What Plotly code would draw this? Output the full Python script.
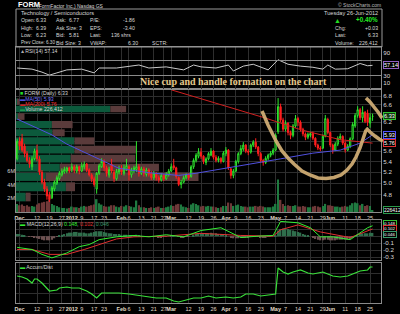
import math
import plotly.graph_objects as go

W, H = 400, 314

# ---------------- data ----------------
# trading-day index: -1 = 30 Nov 2011, 0 = 1 Dec 2011 ... 142 = 26 Jun 2012
day = list(range(-1, 143))

tick_day = [0, 7, 12, 17, 21, 25, 30, 34, 41, 44, 49, 54, 58, 61, 68, 73, 78, 83, 87, 92,
            97, 103, 107, 112, 117, 122, 125, 131, 136, 141]
tick_lbl = ["<b>Dec</b>", "12", "19", "27", "<b>2012</b>", "9", "17", "23", "<b>Feb</b>", "6",
            "13", "21", "27", "<b>Mar</b>", "12", "19", "26", "<b>Apr</b>", "9", "16",
            "23", "<b>May</b>", "7", "14", "21", "29", "<b>Jun</b>", "11", "18", "25"]

opens = [5.45, 5.80, 5.85, 5.70, 5.55, 5.42, 5.30, 5.45, 5.62, 5.45,
         5.20, 5.02, 4.90, 4.80, 4.75, 4.90, 5.00, 5.08, 5.15, 5.20,
         5.22, 5.28, 5.25, 5.30, 5.22, 5.30, 5.22, 5.30, 5.35, 5.24,
         5.15, 5.08, 4.90, 5.18, 5.30, 5.40, 5.28, 5.15, 5.35, 5.20,
         5.08, 5.20, 5.28, 5.18, 5.26, 5.30, 5.15, 5.22, 5.25, 5.30,
         5.18, 5.26, 5.16, 5.24, 5.18, 5.10, 5.18, 5.10, 5.06, 5.14,
         5.08, 5.15, 5.22, 5.32, 5.28, 5.10, 4.98, 5.02, 5.10, 5.15,
         5.12, 5.30, 5.42, 5.50, 5.58, 5.50, 5.38, 5.45, 5.52, 5.60,
         5.48, 5.42, 5.46, 5.40, 5.55, 5.62, 5.26, 5.14, 5.22, 5.40,
         5.55, 5.64, 5.72, 5.60, 5.58, 5.72, 5.78, 5.68, 5.55, 5.42,
         5.38, 5.46, 5.52, 5.56, 5.62, 6.00, 6.55, 6.25, 6.05, 6.18,
         5.98, 5.92, 6.12, 6.28, 6.20, 6.05, 5.95, 5.88, 5.92, 5.96,
         5.86, 5.72, 5.66, 5.66, 5.90, 6.26, 5.98, 5.72, 5.62, 5.74,
         5.86, 5.90, 5.76, 5.62, 5.70, 5.85, 6.12, 6.35, 6.48, 6.30,
         6.42, 6.40, 6.18, 6.33]
highs = [5.85, 5.88, 5.95, 5.75, 5.60, 5.48, 5.50, 5.65, 5.73, 5.50,
         5.24, 5.08, 4.95, 4.85, 4.95, 5.05, 5.14, 5.22, 5.27, 5.30,
         5.30, 5.30, 5.36, 5.33, 5.34, 5.32, 5.38, 5.40, 5.37, 5.27,
         5.18, 5.12, 5.20, 5.36, 5.46, 5.44, 5.32, 5.30, 5.45, 5.24,
         5.26, 5.32, 5.33, 5.34, 5.45, 5.33, 5.28, 5.32, 5.80, 5.35,
         5.30, 5.30, 5.28, 5.27, 5.22, 5.22, 5.20, 5.14, 5.18, 5.17,
         5.20, 5.26, 5.36, 5.45, 5.30, 5.12, 5.06, 5.14, 5.18, 5.18,
         5.33, 5.46, 5.56, 5.66, 5.66, 5.52, 5.48, 5.58, 5.66, 5.62,
         5.52, 5.50, 5.48, 5.60, 5.68, 5.64, 5.28, 5.26, 5.43, 5.58,
         5.72, 5.78, 5.74, 5.64, 5.75, 5.82, 5.86, 5.70, 5.58, 5.45,
         5.50, 5.55, 5.60, 5.66, 5.96, 6.75, 6.62, 6.30, 6.24, 6.20,
         6.02, 6.16, 6.36, 6.32, 6.24, 6.08, 5.98, 5.98, 6.00, 6.00,
         5.88, 5.75, 5.70, 5.94, 6.36, 6.30, 6.00, 5.75, 5.78, 5.90,
         5.96, 5.92, 5.80, 5.74, 5.88, 6.20, 6.40, 6.56, 6.52, 6.56,
         6.45, 6.48, 6.40, 6.39]
lows = [5.42, 5.62, 5.58, 5.48, 5.38, 5.28, 5.24, 5.42, 5.40, 5.15,
        4.98, 4.85, 4.72, 4.68, 4.73, 4.86, 4.97, 5.05, 5.12, 5.17,
        5.18, 5.18, 5.20, 5.18, 5.18, 5.16, 5.20, 5.25, 5.20, 5.12,
        5.02, 4.94, 4.82, 5.15, 5.28, 5.22, 5.12, 5.10, 5.18, 5.02,
        5.05, 5.16, 5.15, 5.14, 5.22, 5.05, 5.10, 5.18, 5.20, 5.12,
        5.15, 5.12, 5.12, 5.12, 5.06, 5.06, 5.05, 5.01, 5.03, 5.04,
        5.06, 5.12, 5.20, 5.24, 5.08, 4.95, 4.91, 5.00, 5.07, 5.06,
        5.10, 5.26, 5.38, 5.46, 5.45, 5.35, 5.33, 5.42, 5.50, 5.44,
        5.38, 5.38, 5.36, 5.38, 5.50, 5.24, 5.08, 5.09, 5.20, 5.36,
        5.52, 5.60, 5.56, 5.52, 5.55, 5.68, 5.64, 5.50, 5.38, 5.32,
        5.35, 5.42, 5.48, 5.52, 5.60, 5.95, 6.20, 6.00, 6.00, 5.92,
        5.84, 5.88, 6.08, 6.12, 6.00, 5.90, 5.82, 5.84, 5.88, 5.82,
        5.68, 5.62, 5.60, 5.64, 5.88, 5.94, 5.68, 5.55, 5.60, 5.70,
        5.82, 5.72, 5.57, 5.60, 5.66, 5.82, 6.08, 6.30, 6.25, 6.20,
        6.18, 6.12, 6.08, 6.23]
closes = [5.80, 5.70, 5.62, 5.55, 5.42, 5.35, 5.45, 5.60, 5.45, 5.20,
          5.02, 4.90, 4.78, 4.72, 4.92, 5.02, 5.10, 5.18, 5.22, 5.25,
          5.28, 5.22, 5.30, 5.24, 5.30, 5.22, 5.32, 5.35, 5.24, 5.15,
          5.08, 4.98, 5.18, 5.32, 5.40, 5.28, 5.18, 5.25, 5.22, 5.08,
          5.22, 5.26, 5.20, 5.28, 5.32, 5.15, 5.24, 5.28, 5.30, 5.18,
          5.26, 5.18, 5.24, 5.16, 5.10, 5.18, 5.10, 5.06, 5.14, 5.08,
          5.16, 5.22, 5.30, 5.28, 5.12, 4.98, 5.02, 5.10, 5.15, 5.10,
          5.30, 5.42, 5.52, 5.58, 5.50, 5.40, 5.45, 5.55, 5.60, 5.48,
          5.42, 5.46, 5.40, 5.56, 5.62, 5.28, 5.14, 5.22, 5.40, 5.55,
          5.65, 5.72, 5.60, 5.58, 5.72, 5.78, 5.68, 5.55, 5.42, 5.38,
          5.46, 5.52, 5.56, 5.62, 5.92, 6.55, 6.25, 6.05, 6.18, 5.98,
          5.92, 6.12, 6.28, 6.20, 6.05, 5.95, 5.88, 5.94, 5.96, 5.86,
          5.72, 5.66, 5.64, 5.90, 6.28, 5.98, 5.72, 5.62, 5.74, 5.86,
          5.90, 5.76, 5.62, 5.70, 5.85, 6.15, 6.35, 6.48, 6.30, 6.42,
          6.22, 6.20, 6.30, 6.33]
volume_m = [1.2, 1.0, 1.1, 0.9, 1.0, 0.8, 0.9, 0.8, 1.1, 1.3, 1.4,
            1.5, 1.6, 1.8, 1.2, 1.0, 0.9, 0.7, 0.6, 0.6, 0.5, 0.6,
            0.8, 0.7, 0.7, 0.6, 0.8, 0.9, 0.8, 0.9, 1.0, 1.1, 1.9,
            1.3, 1.1, 0.9, 0.8, 0.8, 1.0, 1.0, 0.8, 0.7, 0.9, 0.8,
            1.0, 0.9, 0.8, 0.7, 1.7, 1.0, 0.7, 0.7, 0.6, 0.6, 0.7,
            0.6, 0.7, 0.8, 0.6, 0.6, 0.7, 0.8, 1.0, 0.9, 1.1, 1.2,
            1.1, 0.8, 0.7, 0.6, 1.1, 1.3, 1.2, 1.0, 0.8, 0.9, 0.8,
            0.9, 0.8, 0.8, 0.7, 0.6, 0.7, 0.9, 0.9, 1.4, 1.3, 0.9,
            1.0, 1.1, 0.9, 0.8, 0.8, 0.7, 0.8, 0.8, 0.9, 0.8, 0.9,
            0.8, 0.7, 0.7, 0.7, 0.8, 1.2, 4.8, 1.8, 1.2, 0.9, 1.0,
            0.9, 0.9, 1.0, 0.8, 0.8, 0.9, 0.8, 0.7, 0.7, 0.8, 0.9,
            0.8, 0.7, 0.9, 1.2, 1.0, 1.0, 0.9, 0.8, 0.8, 0.7, 0.8,
            0.9, 0.8, 1.0, 1.3, 1.4, 1.3, 1.0, 1.2, 0.9, 1.0, 0.9,
            0.226]

ma50_day = [-1, 13, 19, 32, 40, 52, 64, 71, 79, 89, 105, 118, 129, 137, 142]
ma50 = [6.27, 5.93, 5.74, 5.45, 5.27, 5.19, 5.14, 5.18, 5.24, 5.33, 5.45, 5.56, 5.62, 5.76, 5.93]
ma200_day = [61, 73, 85, 99, 113, 129, 142]
ma200 = [6.95, 6.73, 6.52, 6.29, 6.04, 5.83, 5.76]

# volume-by-price bins (millions of shares)
vbp_lo = [4.68, 4.85, 5.03, 5.20, 5.37, 5.54, 5.72, 5.89, 6.06, 6.24, 6.41, 6.58]
vbp_hi = [4.85, 5.03, 5.20, 5.37, 5.54, 5.72, 5.89, 6.06, 6.24, 6.41, 6.58, 6.75]
vbp_up = [1.6, 8.2, 4.9, 7.2, 9.0, 9.6, 9.6, 6.0, 5.9, 0.3, 15.5, 0.3]
vbp_down = [0.8, 1.5, 25.1, 16.3, 10.6, 10.1, 3.3, 2.0, 3.4, 1.1, 2.6, 0.3]

rsi_day = [-1, 5, 9, 12, 15, 19, 25, 30, 32, 39, 48, 52, 59, 66, 70, 73, 79, 84, 86, 90,
           94, 100, 104, 108, 113, 118, 122, 124, 127, 132, 137, 140, 142]
rsi = [50, 47, 39, 31, 37, 45, 47, 37, 50, 50, 58, 50, 53, 45, 58, 53, 50, 58, 42, 55,
       60, 45, 72, 60, 55, 52, 47, 58, 47, 48, 62, 56, 57.14]

macd_day = [-1, 5, 9, 13, 19, 24, 28, 32, 39, 46, 52, 59, 66, 73, 81, 89, 96, 102, 105, 112,
            117, 121, 126, 133, 140, 142]
macd = [-0.16, -0.19, -0.26, -0.31, -0.24, -0.15, -0.12, -0.05, -0.01, 0.01,
        -0.01, 0.02, -0.01, 0.08, 0.12, -0.02, 0.0, 0.01, 0.21, 0.19,
        0.12, -0.01, -0.01, -0.05, 0.12, 0.148]
signal_day = [-1, 5, 12, 19, 26, 32, 39, 46, 59, 73, 89, 102, 105, 112, 121, 133, 142]
signal = [-0.19, -0.19, -0.26, -0.26, -0.19, -0.12, -0.04, -0.01, 0.0, 0.04, 0.01, 0.0,
          0.09, 0.16, 0.06, -0.02, 0.102]
macd_hist = [0.03, 0.03, 0.02, 0.01, 0.0, -0.01, -0.01,
             -0.02, -0.03, -0.04, -0.05, -0.06, -0.06, -0.06,
             -0.05, -0.03, -0.01, 0.01, 0.02, 0.03,
             0.04, 0.05, 0.05, 0.06, 0.06, 0.05, 0.05,
             0.05, 0.04, 0.04, 0.05, 0.06, 0.07, 0.07,
             0.07, 0.06, 0.05, 0.04, 0.04, 0.03, 0.03, 0.03,
             0.02, 0.02, 0.02, 0.01, 0.01, 0.01, 0.02, 0.01, 0.0, 0.0,
             0.0, -0.01, -0.01, -0.01, -0.01, -0.02, -0.02, -0.01, -0.01, 0.0,
             0.01, 0.01, 0.0, -0.01, -0.02, -0.02, -0.01, -0.01, 0.0, 0.02,
             0.03, 0.04, 0.04, 0.04, 0.04, 0.04, 0.05, 0.04, 0.04, 0.03,
             0.03, 0.03, 0.02, 0.0, -0.02, -0.03, -0.03, -0.03, -0.02, -0.02,
             -0.02, -0.02, -0.01, -0.01, -0.01, -0.01, -0.02, -0.02, -0.02, -0.01,
             -0.01, 0.0, 0.02, 0.08, 0.10, 0.11, 0.11, 0.10, 0.09, 0.08,
             0.07, 0.06, 0.05, 0.03, 0.02, 0.01, 0.0, -0.02, -0.04, -0.05,
             -0.06, -0.06, -0.05, -0.05, -0.06, -0.06, -0.06, -0.05, -0.05, -0.05,
             -0.05, -0.05, -0.04, -0.02, 0.0, 0.02, 0.03, 0.04, 0.04, 0.04, 0.05, 0.046]

ad_day = [-1, 1, 3, 5, 6, 7, 9, 12, 15, 16, 19, 21, 24, 27, 29, 31, 33, 36, 40, 44,
          47, 51, 55, 59, 62, 64, 67, 70, 73, 76, 79, 83, 86, 89, 91, 94, 97, 100, 103, 104,
          106, 108, 110, 113, 116, 118, 122, 126, 129, 132, 134, 137, 140, 141, 142]
ad = [13.5, 13, 12, 10, 12, 12, 10, 6, 6.5, 7.5, 8, 7.5, 7.5, 6, 4.5, 2.5, 5, 5, 5, 4.5,
      4, 3, 2.5, 2.5, 1, 0.5, 1.5, 2.5, 2.5, 3.5, 2.5, 3, 2.5, 3, 4.5, 4.5, 3.5, 4, 4.5, 17.5,
      15.5, 14.5, 15.5, 16.5, 15, 14.5, 15.5, 13.5, 13, 13.5, 14.5, 16, 16.5, 18, 18]

price_ticks = [4.8, 5.0, 5.2, 5.4, 5.6, 5.8, 6.0, 6.2, 6.4, 6.6, 6.8]
price_tick_txt = ['4.8', '5.0', '5.2', '5.4', '5.6', '', '', '6.2', '', '6.6', '6.8']

# ---------------- layout helpers ----------------
def fx(px):
    return px / W


def fy(py):
    return 1 - py / H


XD = [fx(16), fx(381)]
XR = [-1.45, 145.4]
PRICE_DOM = [fy(212), fy(89)]
RSI_DOM = [fy(89), fy(47)]
MACD_DOM = [fy(260), fy(220)]
AD_DOM = [fy(303), fy(263)]
PLOG = [math.log10(4.519), math.log10(6.97)]

GRID = '#2e2e2e'
FRAME = '#8a8a8a'
TXT = '#d8d8d8'
FONT = 'Liberation Sans'
tfont = dict(family=FONT, size=6.2, color=TXT)
dfont = dict(family=FONT, size=5.5, color='#e0dcc8')

fig = go.Figure()

# volume by price (base layer)
lo_l = [math.log10(v) for v in vbp_lo]
hi_l = [math.log10(v) for v in vbp_hi]
mid = [(a + b) / 2 for a, b in zip(lo_l, hi_l)]
wid = [(b - a) * 0.86 for a, b in zip(lo_l, hi_l)]
fig.add_trace(go.Bar(x=vbp_up, y=mid, width=wid, orientation='h',
                     marker=dict(color='#0c5a3c', line_width=0), xaxis='x', yaxis='y'))
fig.add_trace(go.Bar(x=vbp_down, y=mid, base=vbp_up, width=wid, orientation='h',
                     marker=dict(color='#5a3b3b', line_width=0), xaxis='x', yaxis='y'))

# volume
vol_col = ['#1f7a40' if (i == 0 or closes[i] >= closes[i - 1]) else '#6e3838'
           for i in range(len(closes))]
fig.add_trace(go.Bar(x=day, y=volume_m, marker=dict(color=vol_col, line_width=0),
                     xaxis='x2', yaxis='y2'))

# moving averages + candles
fig.add_trace(go.Scatter(x=ma50_day, y=ma50, mode='lines', line=dict(color='#5050e0', width=1),
                         xaxis='x2', yaxis='y3'))
fig.add_trace(go.Scatter(x=ma200_day, y=ma200, mode='lines', line=dict(color='#d02020', width=1),
                         xaxis='x2', yaxis='y3'))
fig.add_trace(go.Candlestick(x=day, open=opens, high=highs, low=lows, close=closes,
                             xaxis='x2', yaxis='y3', whiskerwidth=0,
                             increasing=dict(line=dict(color='#2ee62e', width=1), fillcolor='#000000'),
                             decreasing=dict(line=dict(color='#ff1e1e', width=1), fillcolor='#ff1e1e')))

# RSI
fig.add_trace(go.Scatter(x=rsi_day, y=rsi, mode='lines', line=dict(color='#c8c8c8', width=1),
                         xaxis='x3', yaxis='y4'))

# MACD
hist_col = ['#2f6e4c' if v >= 0 else '#6e5252' for v in macd_hist]
fig.add_trace(go.Bar(x=day, y=macd_hist, marker=dict(color=hist_col, line_width=0),
                     xaxis='x4', yaxis='y5'))
fig.add_trace(go.Scatter(x=signal_day, y=signal, mode='lines', line=dict(color='#e03030', width=1),
                         xaxis='x4', yaxis='y5'))
fig.add_trace(go.Scatter(x=macd_day, y=macd, mode='lines', line=dict(color='#33ee33', width=1),
                         xaxis='x4', yaxis='y5'))

# Accum/Dist
fig.add_trace(go.Scatter(x=ad_day, y=ad, mode='lines', line=dict(color='#3ae03a', width=1.2),
                         xaxis='x5', yaxis='y6'))

xgrid = dict(range=XR, tickmode='array', tickvals=tick_day, showgrid=True, gridcolor=GRID,
             gridwidth=1, showline=True, linecolor=FRAME, linewidth=1, mirror=True, ticks='',
             zeroline=False, fixedrange=True, tickfont=dfont, tickangle=0)

fig.update_layout(
    width=W, height=H, margin=dict(l=0, r=0, t=0, b=0),
    paper_bgcolor='#000000', plot_bgcolor='#000000',
    showlegend=False, barmode='overlay', bargap=0.35,
    xaxis=dict(domain=XD, range=[0, 60], visible=False, anchor='y', fixedrange=True),
    yaxis=dict(domain=PRICE_DOM, range=PLOG, visible=False, anchor='x', fixedrange=True),
    xaxis2=dict(overlaying='x', anchor='y3', ticktext=tick_lbl, rangeslider=dict(visible=False),
                **xgrid),
    yaxis2=dict(overlaying='y', anchor='x2', side='left', range=[0, 18.2], tickmode='array',
                tickvals=[2, 4, 6], ticktext=['2M', '4M', '6M'], showgrid=False, zeroline=False,
                showline=False, ticks='', tickfont=dict(family=FONT, size=5.5, color=TXT)),
    yaxis3=dict(overlaying='y', anchor='x2', side='right', type='log', range=PLOG,
                tickmode='array', tickvals=price_ticks, ticktext=price_tick_txt,
                showgrid=True, gridcolor=GRID, showline=True, linecolor=FRAME, mirror=True,
                ticks='', zeroline=False, tickfont=tfont),
    xaxis3=dict(domain=XD, anchor='y4', showticklabels=False, **xgrid),
    yaxis4=dict(domain=RSI_DOM, anchor='x3', side='right', range=[-6, 106], tickmode='array',
                tickvals=[10, 30, 50, 70, 90], ticktext=['10', '30', '', '', '90'],
                showgrid=False, showline=True, linecolor=FRAME,
                mirror=True, ticks='', zeroline=False, tickfont=tfont),
    xaxis4=dict(domain=XD, anchor='y5', showticklabels=False, **xgrid),
    yaxis5=dict(domain=MACD_DOM, anchor='x4', side='right', range=[-0.34, 0.23], tickmode='array',
                tickvals=[-0.3, -0.2, -0.1, 0.0, 0.1, 0.2],
                ticktext=['-0.3', '-0.2', '-0.1', '', '', ''],
                showgrid=True, gridcolor=GRID, showline=True, linecolor=FRAME, mirror=True,
                ticks='', zeroline=False, tickfont=tfont),
    xaxis5=dict(domain=XD, anchor='y6', ticktext=tick_lbl, **xgrid),
    yaxis6=dict(domain=AD_DOM, anchor='x5', side='right', range=[0, 20], showticklabels=False,
                showgrid=True, gridcolor=GRID, dtick=5, showline=True, linecolor=FRAME,
                mirror=True, ticks='', zeroline=False),
)

# ---------------- texts ----------------
ann = []


def txt(x, y, s, size=5.2, color=TXT, anchor='left', family=FONT):
    ann.append(dict(x=fx(x), y=fy(y), xref='paper', yref='paper', text=s, showarrow=False,
                    xanchor=anchor, yanchor='middle', font=dict(size=size, color=color, family=family)))


txt(16, 5, '<b>FORM</b>', size=7.5, color='#ffffff')
txt(35, 5.5, '(FormFactor Inc.) Nasdaq GS', size=5)
txt(383, 5, '© StockCharts.com', size=5, color='#bbbbbb', anchor='right')

txt(19, 13, 'Technology / Semiconductors', size=5.6)
txt(380, 13, 'Tuesday 26-Jun-2012', size=5.6, anchor='right')
rows = [(20, ['Open:', '6.33', 'Ask:', '6.77', 'P/E:']),
        (27.5, ['High:', '6.39', 'Ask Size: 3', '', 'EPS:']),
        (35, ['Low:', '6.23', 'Bid:', '5.81', 'Last:'])]
cols = [19, 34, 54, 67, 88]
for y, items in rows:
    for cx, s in zip(cols, items):
        if s:
            txt(cx, y, s)
txt(19, 42.5, 'Prev Close: 6.30', size=4.6)
txt(54, 42.5, 'Bid Size: 3')
txt(88, 42.5, 'VWAP:')
txt(137, 20, '-1.86', anchor='right')
txt(137, 27.5, '-3.40', anchor='right')
txt(133, 35, '136 shrs', anchor='right')
txt(140, 42.5, '6.30', anchor='right')
txt(150, 42.5, 'SCTR:')

txt(337, 20.5, '▲', size=7, color='#22dd22', anchor='center')
txt(380, 20, '<b>+0.40%</b>', size=6.3, color='#22ee22', anchor='right')
txt(333, 27.5, 'Chg:')
txt(380, 27.5, '+0.03', anchor='right')
txt(333, 35, 'Last:')
txt(380, 35, '6.33', anchor='right')
txt(333, 42.5, 'Volume:')
txt(380, 42.5, '226,412', anchor='right')

txt(18, 51, '<span style="color:#aaaaaa">▲</span>RSI(14) 57.14', size=5.2)
txt(18, 93, '<span style="color:#22dd22">■</span> FORM (Daily) 6.33', size=5.2)
txt(18, 98.5, '<span style="color:#5050e0">▬</span><span style="color:#7070ff">MA(50) 5.93</span>', size=5.2)
txt(18, 103.5, '<span style="color:#d02020">▬</span><span style="color:#ff3030">MA(200) 5.76</span>', size=5.2)
txt(18, 108.5, '<span style="color:#1f9a50">▬</span>Volume 226,412', size=5.2)
txt(18, 223.5, '<span style="color:#33ee33">▬</span> MACD(12,26,9) <span style="color:#33ee33">0.148</span>, '
                '<span style="color:#e03030">0.102</span>, <span style="color:#3a9a6a">0.046</span>', size=5.2)
txt(18, 267, '<span style="color:#3ae03a">▬</span> Accum/Dist', size=5.2)

txt(233, 82, '<b>Nice cup and handle formation on the chart</b>', size=10, color='#e6c98c',
    family='Liberation Serif', anchor='center')


def vbox(y, yref, s, border, bg='#000000', size=5.6, shift=0):
    ann.append(dict(x=fx(383), xref='paper', xanchor='left', y=y, yref=yref, yanchor='middle',
                    text=s, showarrow=False, bordercolor=border, borderwidth=1, borderpad=0,
                    bgcolor=bg, yshift=shift, font=dict(size=size, color='#ffffff', family=FONT)))


vbox(57.14, 'y4', '57.14', '#9060c0')
vbox(math.log10(6.33), 'y3', '6.33', '#30c030', '#0e3a0e')
vbox(math.log10(5.93), 'y3', '5.93', '#5050ff')
vbox(math.log10(5.76), 'y3', '5.76', '#e03030')
vbox(0.226, 'y2', '226412', '#2a9a4a', size=5)
vbox(0.148, 'y5', '0.148', '#30c030', size=4.4, shift=2)
vbox(0.102, 'y5', '0.102', '#e03030', size=4.4, shift=0)
vbox(0.046, 'y5', '0.046', '#3a9a6a', size=4.4, shift=-1.5)

fig.update_layout(annotations=ann)

# ---------------- hand-drawn cup & handle + info box ----------------


def ppath(pts):
    return 'M ' + ' L '.join('%.4f,%.4f' % (fx(x), fy(y)) for x, y in pts)


cup = [(262, 111), (265, 118), (268, 125), (272, 133), (276, 141), (282, 151), (288, 158),
       (294, 164), (302, 171), (310, 175), (318, 178), (326, 178.5), (334, 177.5), (341, 175),
       (347, 170), (352, 164), (356, 157), (360, 148), (363, 139), (366, 130)]
handle_top = [(366, 98), (370, 102), (374, 107), (378, 112), (382, 118)]
handle_low = [(366, 128), (370, 132), (375, 136), (379, 139), (383, 141)]

shapes = [dict(type='rect', xref='paper', yref='paper', x0=fx(16), x1=fx(382), y0=fy(47), y1=fy(9),
               line=dict(color='#9a9a9a', width=1)),
          dict(type='line', xref='paper', yref='y4', x0=XD[0], x1=XD[1], y0=70, y1=70,
               line=dict(color='#8a8a8a', width=1)),
          dict(type='line', xref='paper', yref='y4', x0=XD[0], x1=XD[1], y0=30, y1=30,
               line=dict(color='#8a8a8a', width=1))]
for pts in (cup, handle_top, handle_low):
    shapes.append(dict(type='path', xref='paper', yref='paper', path=ppath(pts), layer='above',
                       line=dict(color='rgba(212,176,118,0.92)', width=3.5)))
fig.update_layout(shapes=shapes)

fig.write_html('out.html')
